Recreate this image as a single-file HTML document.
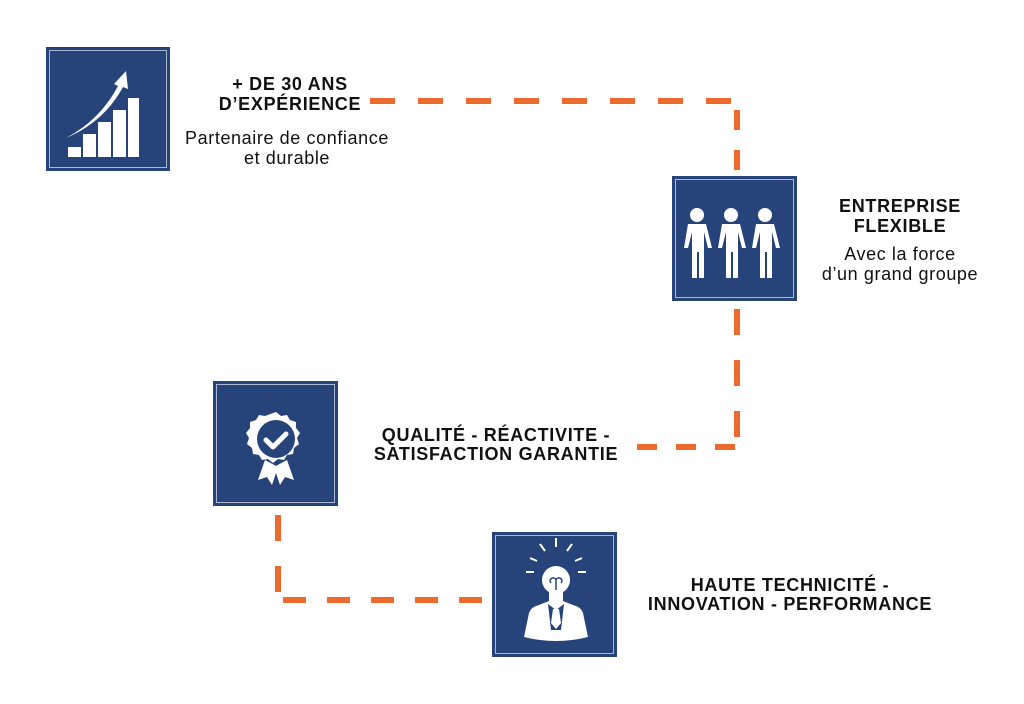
<!DOCTYPE html>
<html><head><meta charset="utf-8"><style>
html,body{margin:0;padding:0;background:#fff;}
body{width:1024px;height:704px;position:relative;overflow:hidden;font-family:"Liberation Sans",Arial,sans-serif;color:#111;}
.t{position:absolute;text-align:center;white-space:nowrap;}
.b{font-weight:bold;font-size:18px;line-height:20px;letter-spacing:0.7px;}
.r{font-size:18px;line-height:20px;letter-spacing:0.6px;}
</style></head><body>
<svg width="1024" height="704" style="position:absolute;left:0;top:0">
<g stroke="#ec6a2c" stroke-width="6" fill="none">
<line x1="370" y1="101" x2="734" y2="101" stroke-dasharray="25 23"/>
<line x1="737" y1="110" x2="737" y2="172" stroke-dasharray="20 20"/>
<line x1="737" y1="309" x2="737" y2="437" stroke-dasharray="26 25"/>
<line x1="735" y1="447" x2="636" y2="447" stroke-dasharray="20 19"/>
<line x1="278" y1="515" x2="278" y2="592" stroke-dasharray="26 25"/>
<line x1="283" y1="600" x2="483" y2="600" stroke-dasharray="23 21"/>
</g>
<g fill="#26437a">
<rect x="46" y="47" width="124" height="124"/>
<rect x="672" y="176" width="125" height="125"/>
<rect x="213" y="381" width="125" height="125"/>
<rect x="492" y="532" width="125" height="125"/>
</g>
<g fill="none" stroke="#a9b7d0" stroke-width="1">
<rect x="49.5" y="50.5" width="117" height="117"/>
<rect x="675.5" y="179.5" width="118" height="118"/>
<rect x="216.5" y="384.5" width="118" height="118"/>
<rect x="495.5" y="535.5" width="118" height="118"/>
</g>
<g fill="#fff">
<rect x="68" y="147" width="13" height="10"/>
<rect x="83" y="134" width="13" height="23"/>
<rect x="98" y="122" width="13" height="35"/>
<rect x="113" y="110" width="13" height="47"/>
<rect x="128" y="98" width="11" height="59"/>
<path d="M66 138 Q100 120 118 86 L114 84 L126 71 L128 89 L123 87 Q104 122 66 138Z"/>
</g>
<g fill="#fff">
<g id="p">
<circle cx="697" cy="215" r="7"/>
<path d="M688 224 h18 l6 24 h-4 l-4 -16 v46 h-5 v-26 h-2 v26 h-5 v-46 l-4 16 h-4z"/>
</g>
<use href="#p" x="34"/>
<use href="#p" x="68"/>
</g>
<g transform="translate(20,0)">
<g fill="#fff">
<path d="M256 412 l5 4 6 -1 3 5 6 2 0 6 4 5 -3 5 2 6 -5 4 -1 6 -6 1 -3 5 -6 -1 -5 4 -5 -4 -6 1 -3 -5 -6 -1 -1 -6 -5 -4 2 -6 -3 -5 4 -5 0 -6 6 -2 3 -5 6 1z"/>
<path d="M245 460 l-7 20 9 -3 5 8 6 -18z"/>
<path d="M267 460 l7 20 -9 -3 -5 8 -6 -18z"/>
</g>
<circle cx="256" cy="439" r="19" fill="#26437a"/>
<path d="M246 440 l7 7 13 -13" stroke="#fff" stroke-width="5" fill="none" stroke-linecap="round" stroke-linejoin="round"/>
</g>
<g fill="#fff">
<circle cx="556" cy="580" r="14"/>
<rect x="549" y="592" width="14" height="10"/>
<path d="M524 637 l5 -24 q2 -6 10 -8 l10 -4 h14 l10 4 q8 2 10 8 l5 24 q-32 8 -64 0z"/>
<path d="M556 538v9M540 544l5 7M572 544l-5 7M530 558l7 3M582 558l-7 3M526 572h8M578 572h8" stroke="#fff" stroke-width="2"/>
</g>
<path d="M548 604 l8 6 8 -6 l-3 26 h-10z" fill="#26437a"/>
<path d="M553 609 h6 l2 14 -5 6 -5 -6z" fill="#fff"/>
<path d="M551 583 a3 3 0 1 1 5 -3 a3 3 0 1 1 5 3 M556 580 v10" stroke="#26437a" stroke-width="1.5" fill="none"/>
</svg>
<div class="t b" style="left:180px;width:220px;top:74px;">+ DE 30 ANS<br>D’EXPÉRIENCE</div>
<div class="t r" style="left:170px;width:234px;top:128px;">Partenaire de confiance<br>et durable</div>
<div class="t b" style="left:790px;width:220px;top:196px;">ENTREPRISE<br>FLEXIBLE</div>
<div class="t r" style="left:790px;width:220px;top:244px;">Avec la force<br>d’un grand groupe</div>
<div class="t b" style="left:346px;width:300px;top:426px;line-height:19px;">QUALITÉ - RÉACTIVITE -<br>SATISFACTION GARANTIE</div>
<div class="t b" style="left:610px;width:360px;top:576px;line-height:19px;">HAUTE TECHNICITÉ -<br>INNOVATION - PERFORMANCE</div>
</body></html>
